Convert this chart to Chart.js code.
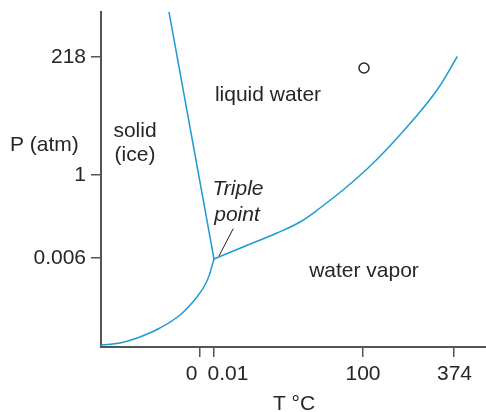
<!DOCTYPE html>
<html>
<head>
<meta charset="utf-8">
<script src="https://cdn.jsdelivr.net/npm/chart.js@4/dist/chart.umd.min.js"></script>
<style>
  html, body { margin: 0; padding: 0; background: #ffffff; overflow: hidden; }
  #c { display: block; }
</style>
</head>
<body>
<canvas id="c" width="486" height="412"></canvas>
<script>
// Schematic phase diagram of water (axes are not to scale; values in diagram units)
const xTickPos = [99, 113, 262, 353];
const xTickLabels = ['0', '0.01', '100', '374'];
const yTickPos = [89, 172, 290];
const yTickLabels = ['0.006', '1', '218'];

// Triple point and phase boundaries (diagram units)
const triplePoint = [113, 88];
const fusionX = [113, 68];
const fusionY = [88, 335];
const sublimationX = [0, 19, 39, 59, 79, 96, 106, 113];
const sublimationY = [2, 4, 10, 19, 32, 50, 66, 88];
const vaporizationX = [113, 142, 176, 199, 219, 242, 266, 286, 312, 336, 356];
const vaporizationY = [88, 100, 114, 125, 139, 157, 178, 198, 227, 257, 290];
const criticalMarkX = [263];
const criticalMarkY = [279];
const leaderX = [132, 118];
const leaderY = [118, 91];

const toPts = (xs, ys) => xs.map((x, i) => ({ x: x, y: ys[i] }));

const BLUE = '#1f9ad6';
const AXIS = '#555555';
const TEXT = '#262626';
const FONT = '"Liberation Sans", Arial, Helvetica, sans-serif';

const annotations = [
  { text: 'liquid water', x: 167, y: 246, italic: false },
  { text: 'solid', x: 34, y: 210, italic: false },
  { text: '(ice)', x: 34, y: 186, italic: false },
  { text: 'Triple', x: 137, y: 152, italic: true },
  { text: 'point', x: 136, y: 126, italic: true },
  { text: 'water vapor', x: 263, y: 70, italic: false }
];

const textPlugin = {
  id: 'textPlugin',
  afterDraw(chart) {
    const ctx = chart.ctx;
    const xs = chart.scales.x, ys = chart.scales.y;
    ctx.save();
    ctx.fillStyle = TEXT;
    ctx.textAlign = 'center';
    ctx.textBaseline = 'alphabetic';
    annotations.forEach(a => {
      ctx.font = (a.italic ? 'italic ' : '') + '21px ' + FONT;
      ctx.fillText(a.text, xs.getPixelForValue(a.x), ys.getPixelForValue(a.y));
    });
    const labelShift = [-8.5, 14, 0, 0.5];
    ctx.font = '21px ' + FONT;
    xTickPos.forEach((v, i) => {
      ctx.fillText(xTickLabels[i], xs.getPixelForValue(v) + labelShift[i], xs.top + 33);
    });
    ctx.fillText('T \u00B0C', xs.left + 193, xs.top + 63);
    ctx.textAlign = 'left';
    ctx.fillText('P (atm)', 10, ys.getPixelForValue(196));
    ctx.restore();
  }
};

const zeroPad = s => { s.paddingTop = 0; s.paddingBottom = 0; s.paddingLeft = 0; s.paddingRight = 0; };

new Chart(document.getElementById('c'), {
  type: 'scatter',
  data: {
    datasets: [
      { data: toPts(fusionX, fusionY), showLine: true, borderColor: BLUE, borderWidth: 1.5, pointRadius: 0, tension: 0 },
      { data: toPts(sublimationX, sublimationY), showLine: true, borderColor: BLUE, borderWidth: 1.5, pointRadius: 0, tension: 0.4 },
      { data: toPts(vaporizationX, vaporizationY), showLine: true, borderColor: BLUE, borderWidth: 1.5, pointRadius: 0, tension: 0.4 },
      { data: toPts(leaderX, leaderY), showLine: true, borderColor: '#222222', borderWidth: 1, pointRadius: 0 },
      { data: toPts(criticalMarkX, criticalMarkY), showLine: false, pointRadius: 5, pointBorderWidth: 1.5, pointBorderColor: '#2a2a2a', pointBackgroundColor: 'rgba(0,0,0,0)' }
    ]
  },
  options: {
    responsive: false,
    animation: false,
    devicePixelRatio: 1,
    layout: { autoPadding: false, padding: { top: 12, right: 0, bottom: 0, left: 0 } },
    plugins: { legend: { display: false }, tooltip: { enabled: false } },
    elements: { line: { borderCapStyle: 'round' } },
    scales: {
      x: {
        type: 'linear', min: 0, max: 385,
        afterBuildTicks: s => { s.ticks = xTickPos.map(v => ({ value: v })); },
        afterFit: s => { s.height = 65; zeroPad(s); },
        ticks: { display: false },
        grid: { drawOnChartArea: false, drawTicks: true, tickLength: 10, color: AXIS, lineWidth: 1.5 },
        border: { display: true, color: AXIS, width: 2 }
      },
      y: {
        type: 'linear', min: 0, max: 335,
        afterBuildTicks: s => { s.ticks = yTickPos.map(v => ({ value: v })); },
        afterFit: s => { s.width = 101; zeroPad(s); },
        ticks: {
          callback: (v, i) => yTickLabels[i],
          font: { family: FONT, size: 21 },
          color: TEXT,
          padding: 5
        },
        grid: { drawOnChartArea: false, drawTicks: true, tickLength: 10, color: AXIS, lineWidth: 1.5 },
        border: { display: true, color: AXIS, width: 2 }
      }
    }
  },
  plugins: [textPlugin]
});
</script>
</body>
</html>
